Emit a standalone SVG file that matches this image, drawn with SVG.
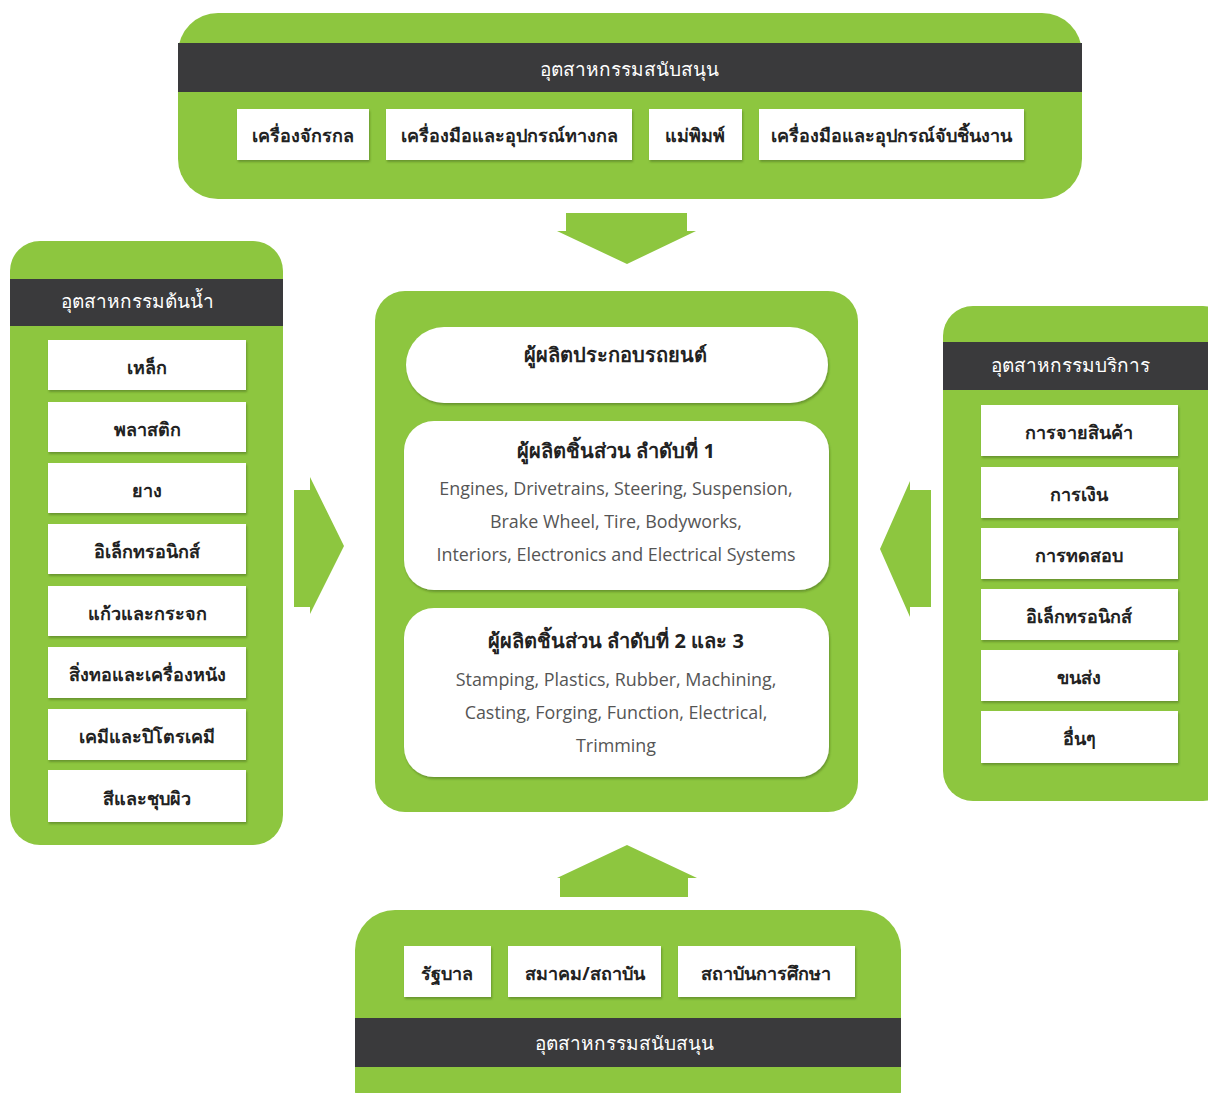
<svg xmlns="http://www.w3.org/2000/svg" width="1208" height="1093" viewBox="0 0 1208 1093">
<defs>
<filter id="sh" x="-10%" y="-10%" width="120%" height="130%">
<feDropShadow dx="1" dy="2" stdDeviation="1.2" flood-color="#3d5a14" flood-opacity="0.45"/>
</filter>
<style>
.g{fill:#8dc63f}
.d{fill:#3a3a3c}
.b{fill:#ffffff;filter:url(#sh)}
.t{font-family:"Noto Sans","DejaVu Sans",sans-serif;font-size:18px;font-weight:bold;fill:#222;text-anchor:middle}
.c{font-size:20px}
.h{font-family:"Noto Sans","DejaVu Sans",sans-serif;font-size:19px;fill:#fff;text-anchor:middle}
.e{font-family:"Open Sans",Lato,sans-serif;font-size:17.9px;fill:#555;text-anchor:middle}
</style>
</defs>
<rect width="1208" height="1093" fill="#fff"/>

<g id="top">
<rect class="g" x="178" y="13" width="904" height="186" rx="40"/>
<rect class="d" x="178" y="43" width="904" height="49"/>
<text class="h" x="629" y="76">อุตสาหกรรมสนับสนุน</text>
<rect class="b" x="237" y="109" width="132" height="51"/>
<text class="t" x="303" y="142">เครื่องจักรกล</text>
<rect class="b" x="386" y="109" width="246" height="51"/>
<text class="t" x="509" y="142">เครื่องมือและอุปกรณ์ทางกล</text>
<rect class="b" x="649" y="109" width="93" height="51"/>
<text class="t" x="695" y="142">แม่พิมพ์</text>
<rect class="b" x="759" y="109" width="265" height="51"/>
<text class="t" x="891" y="142">เครื่องมือและอุปกรณ์จับชิ้นงาน</text>
</g>

<g id="left">
<rect class="g" x="10" y="241" width="273" height="604" rx="30"/>
<rect class="d" x="10" y="279" width="273" height="47"/>
<text class="h" x="137" y="308">อุตสาหกรรมต้นน้ำ</text>
<rect class="b" x="48" y="340" width="198" height="50"/>
<text class="t" x="147" y="374">เหล็ก</text>
<rect class="b" x="48" y="402" width="198" height="50"/>
<text class="t" x="147" y="436">พลาสติก</text>
<rect class="b" x="48" y="463" width="198" height="50"/>
<text class="t" x="147" y="497">ยาง</text>
<rect class="b" x="48" y="524" width="198" height="50"/>
<text class="t" x="147" y="558">อิเล็กทรอนิกส์</text>
<rect class="b" x="48" y="586" width="198" height="50"/>
<text class="t" x="147" y="620">แก้วและกระจก</text>
<rect class="b" x="48" y="647" width="198" height="51"/>
<text class="t" x="147" y="681">สิ่งทอและเครื่องหนัง</text>
<rect class="b" x="48" y="709" width="198" height="51"/>
<text class="t" x="147" y="743">เคมีและปิโตรเคมี</text>
<rect class="b" x="48" y="770" width="198" height="52"/>
<text class="t" x="147" y="805">สีและชุบผิว</text>
</g>

<g id="center">
<rect class="g" x="375" y="291" width="483" height="521" rx="30"/>
<rect class="b" x="406" y="327" width="422" height="76" rx="38"/>
<text class="t c" x="615" y="362">ผู้ผลิตประกอบรถยนต์</text>
<rect class="b" x="404" y="421" width="425" height="169" rx="30"/>
<text class="t c" x="616" y="458">ผู้ผลิตชิ้นส่วน ลำดับที่ 1</text>
<text class="e" x="616" y="495">Engines, Drivetrains, Steering, Suspension,</text>
<text class="e" x="616" y="528">Brake Wheel, Tire, Bodyworks,</text>
<text class="e" x="616" y="561">Interiors, Electronics and Electrical Systems</text>
<rect class="b" x="404" y="608" width="425" height="169" rx="30"/>
<text class="t c" x="616" y="648">ผู้ผลิตชิ้นส่วน ลำดับที่ 2 และ 3</text>
<text class="e" x="616" y="686">Stamping, Plastics, Rubber, Machining,</text>
<text class="e" x="616" y="719">Casting, Forging, Function, Electrical,</text>
<text class="e" x="616" y="752">Trimming</text>
</g>

<g id="right">
<rect class="g" x="943" y="306" width="290" height="495" rx="30"/>
<rect class="d" x="943" y="342" width="265" height="48"/>
<text class="h" x="1070" y="372">อุตสาหกรรมบริการ</text>
<rect class="b" x="981" y="405" width="197" height="51"/>
<text class="t" x="1079" y="439">การจายสินค้า</text>
<rect class="b" x="981" y="467" width="197" height="51"/>
<text class="t" x="1079" y="501">การเงิน</text>
<rect class="b" x="981" y="528" width="197" height="51"/>
<text class="t" x="1079" y="562">การทดสอบ</text>
<rect class="b" x="981" y="589" width="197" height="51"/>
<text class="t" x="1079" y="623">อิเล็กทรอนิกส์</text>
<rect class="b" x="981" y="650" width="197" height="51"/>
<text class="t" x="1079" y="684">ขนส่ง</text>
<rect class="b" x="981" y="711" width="197" height="52"/>
<text class="t" x="1079" y="745">อื่นๆ</text>
</g>

<g id="bottom">
<rect class="g" x="355" y="910" width="546" height="220" rx="40"/>
<rect class="b" x="404" y="946" width="87" height="51"/>
<text class="t" x="447" y="980">รัฐบาล</text>
<rect class="b" x="508" y="946" width="153" height="51"/>
<text class="t" x="585" y="980">สมาคม/สถาบัน</text>
<rect class="b" x="678" y="946" width="177" height="51"/>
<text class="t" x="766" y="980">สถาบันการศึกษา</text>
<rect class="d" x="355" y="1018" width="546" height="49"/>
<text class="h" x="624" y="1050">อุตสาหกรรมสนับสนุน</text>
</g>

<g id="connectors" class="g">
<polygon points="566,213 687,213 687,231 696,231 627,264 557,231 566,231"/>
<polygon points="294,490 310,490 310,477 344,546 310,614 310,607 294,607"/>
<polygon points="931,490 910,490 910,481 880,549 910,617 910,607 931,607"/>
<polygon points="560,897 688,897 688,878 697,878 627,845 557,878 560,878"/>
</g>
</svg>
